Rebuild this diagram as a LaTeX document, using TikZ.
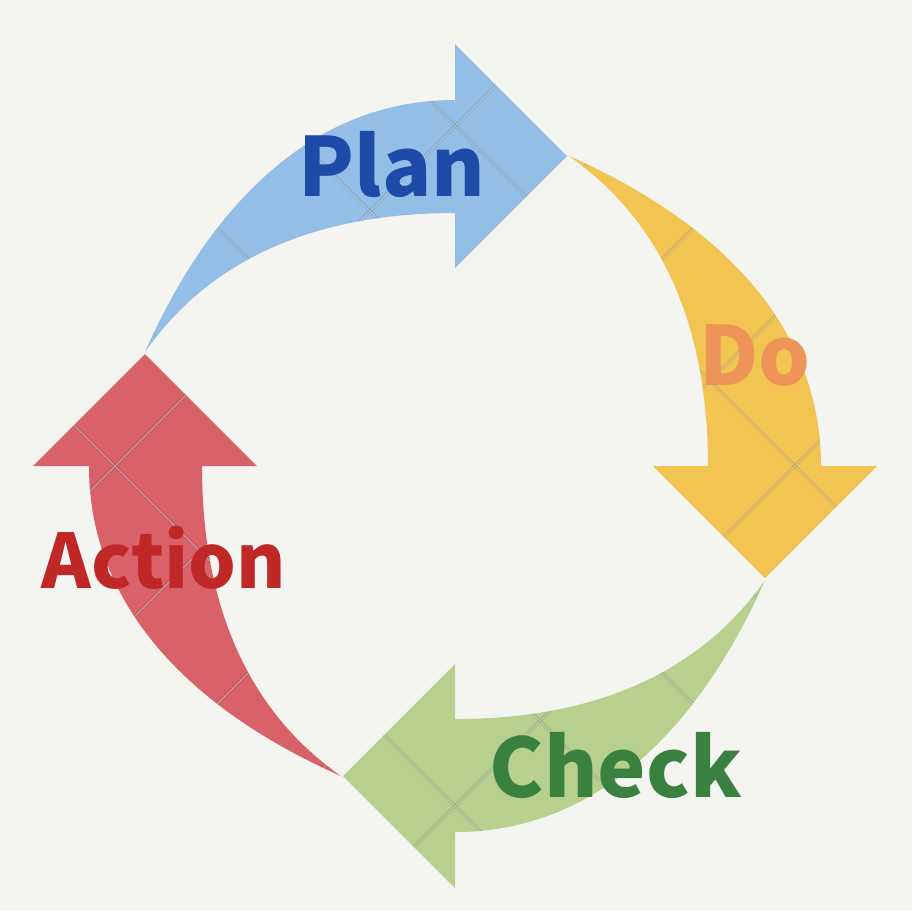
\documentclass[tikz,border=0pt]{standalone}
\usepackage{fontspec}
\newfontfamily\pdcafont{Noto Sans CJK SC}
\definecolor{bgpaper}{HTML}{F4F4F0}
\definecolor{planfill}{HTML}{93BEE6}
\definecolor{dofill}{HTML}{F2C452}
\definecolor{checkfill}{HTML}{B7D08E}
\definecolor{actfill}{HTML}{D9626A}
\definecolor{plantext}{HTML}{1E4AA8}
\definecolor{dotext}{HTML}{EE9458}
\definecolor{checktext}{HTML}{3A803E}
\definecolor{acttext}{HTML}{C02828}
\tikzset{pdcatext/.style = {anchor = base, inner sep = 0, font = \pdcafont\bfseries\fontsize{23.2}{23.2}\selectfont}}
\tikzset{crease/.style = {black, opacity = .16, line width = .75pt}}
\tikzset{creaselit/.style = {white, opacity = .45, line width = .3pt}}
\newcommand\pdcaoutline{(-310,114) .. controls (-250,250) and (-150,366) .. (0,366) -- (0,422) -- (112,310) -- (0,198) -- (0,253) .. controls (-150,253) and (-250,200) .. (-310,114) -- cycle}

\begin{document}
\begin{tikzpicture}[x=.1mm, y=.1mm]
      \fill [bgpaper] (-455,-444) rectangle (457,466);
      \useasboundingbox (-455,-444) rectangle (457,466);
      \foreach \ang/\col in {0/planfill, -90/dofill, -180/checkfill, -270/actfill} {
        \begin{scope}[rotate = \ang]
          \fill [\col] \pdcaoutline;
          \begin{scope}
            \clip \pdcaoutline;
            \foreach \k in {-4,...,4} {
              \draw [crease] (170*\k-600, 600) -- (170*\k+600, -600);
              \draw [crease] (170*\k-600, -600) -- (170*\k+600, 600);
              \draw [creaselit] (170*\k-600, 600) -- (170*\k+600, -600);
              \draw [creaselit] (170*\k-600, -600) -- (170*\k+600, 600);
            }
          \end{scope}
        \end{scope}
      }
      \node [pdcatext, plantext] (plan) at (-63, 270) {Plan};
      \node [pdcatext, dotext] (do) at (300, 81) {Do};
      \node [pdcatext, checktext] (check) at (161, -331) {Check};
      \node [pdcatext, acttext, font = \pdcafont\bfseries\fontsize{21.4}{21.4}\selectfont] (action) at (-291, -122) {Action};
    \end{tikzpicture}
\end{document}
